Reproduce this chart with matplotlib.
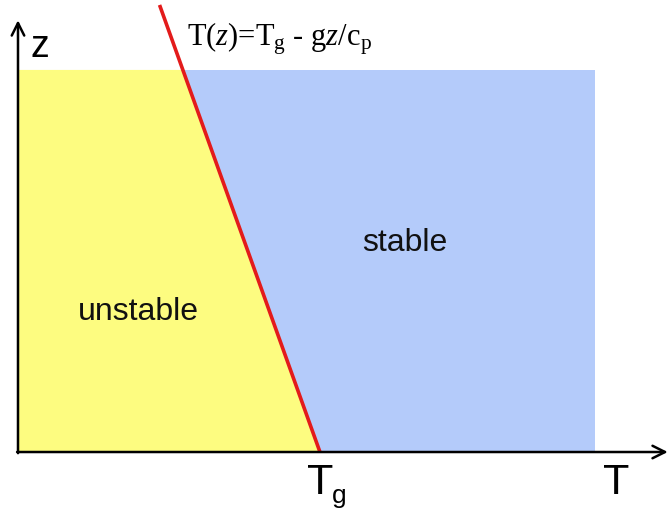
import matplotlib

matplotlib.use("Agg")

import matplotlib.pyplot as plt
from matplotlib.patches import Polygon

plt.rcParams.update(
    {
        "font.family": ["Liberation Sans", "DejaVu Sans"],
        "mathtext.fontset": "custom",
        "mathtext.rm": "Liberation Serif",
        "mathtext.it": "Liberation Serif:italic",
    }
)

# surface temperature and lapse rate (data units: T_g = 1, top of box z = 1)
T_g = 1.0
lapse = 0.454
z_top = 1.0
T_right = 1.91
z_line_top = 1.17

region_labels = ["unstable", "stable"]
region_pos = [(0.40, 0.366), (1.28, 0.548)]

x_lim = (-0.0596, 2.156)
y_lim = (-0.157, 1.183)


def T_of_z(z):
    return T_g - lapse * z


fig = plt.figure(figsize=(6.69, 5.12), dpi=100)
ax = fig.add_axes([0, 0, 1, 1])
ax.set_xlim(*x_lim)
ax.set_ylim(*y_lim)
ax.axis("off")

T_cross = T_of_z(z_top)
ax.add_patch(Polygon([(0, 0), (T_g, 0), (T_cross, z_top), (0, z_top)], closed=True,
                     facecolor="#fdfc80", edgecolor="none", zorder=1))
ax.add_patch(Polygon([(T_g, 0), (T_right, 0), (T_right, z_top), (T_cross, z_top)], closed=True,
                     facecolor="#b4cbfa", edgecolor="none", zorder=1))

ax.plot([T_of_z(0), T_of_z(z_line_top)], [0, z_line_top], color="#e31b1b", lw=2.6, zorder=3,
        solid_capstyle="butt")

# axes arrows
arrow_kw = dict(arrowstyle="->,head_length=0.9,head_width=0.45", color="black", lw=1.8,
                shrinkA=0, shrinkB=0)
ax.annotate("", xy=(2.152, 0), xytext=(-0.003, 0), arrowprops=arrow_kw, zorder=4)
ax.annotate("", xy=(0, 1.13), xytext=(0, -0.003), arrowprops=arrow_kw, zorder=4)

ax.text(0.073, 1.06, "z", fontsize=27, ha="center", va="center")
ax.text(1.98, -0.08, "T", fontsize=31, ha="center", va="center")
ax.text(T_g, -0.08, r"T", fontsize=31, ha="center", va="center")
ax.text(T_g + 0.065, -0.115, "g", fontsize=19, ha="center", va="center")

for label, (tx, tz) in zip(region_labels, region_pos):
    ax.text(tx, tz, label, fontsize=23, ha="center", va="center", color="#111111")

ax.text(0.56, 1.083, r"T($z$)=T$_{\mathrm{g}}$ - g$z$/c$_{\mathrm{p}}$", fontsize=22,
        ha="left", va="center", family="Liberation Serif")

fig.savefig("out.png", dpi=100)
